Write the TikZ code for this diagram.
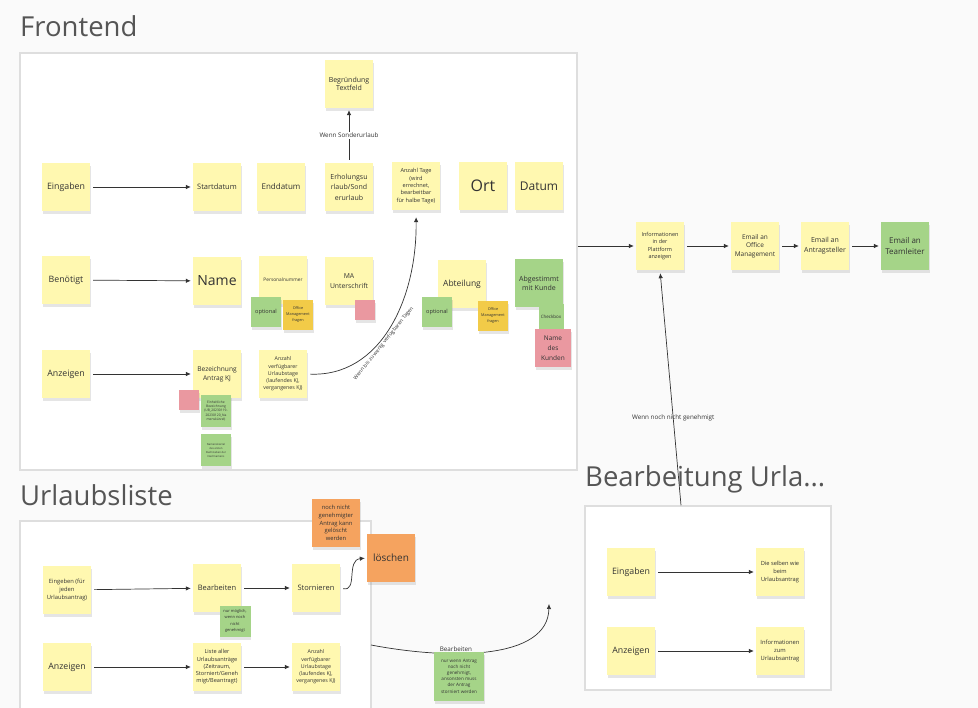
\documentclass[tikz,border=0pt]{standalone}
\usepackage{fontspec}
\setmainfont{Open Sans}
\usetikzlibrary{arrows.meta,positioning,shadows}
\definecolor{stk}{HTML}{FFF8B0}
\definecolor{stkg}{HTML}{A5D488}
\definecolor{stkp}{HTML}{EA98A0}
\definecolor{stko}{HTML}{F5A35F}
\definecolor{stky}{HTML}{F2CB48}
\definecolor{ink}{HTML}{333333}
\definecolor{ttl}{HTML}{555555}
\definecolor{frm}{HTML}{DEDEDE}
\definecolor{bg}{HTML}{FAFAFA}
\newcommand\fsz[2]{\fontsize{#1}{#2}\selectfont}

\begin{document}
\begin{tikzpicture}[x=1pt,y=-1pt,>={Latex[length=5pt,width=4.5pt]},
 note/.style={fill=stk,minimum width=48pt,minimum height=48pt,inner sep=1pt,align=center,text=ink,
  drop shadow={shadow xshift=0.5pt,shadow yshift=-3pt,opacity=0.2}},
 gnote/.style={note,fill=stkg},pnote/.style={note,fill=stkp},
 onote/.style={note,fill=stko},ynote/.style={note,fill=stky},
 sq/.style={minimum width=#1,minimum height=#1},
 frame/.style={draw=frm,line width=1.5pt,fill=white},
 title/.style={anchor=west,inner sep=0pt,text=ttl,font=\fsz{27.5}{32}},
 link/.style={->,draw=ink,line width=0.7pt,shorten >=2pt,shorten <=3pt},
 lbl/.style={font=\fsz{6.3}{8},text=ink,inner sep=1pt}]
\useasboundingbox (0,0) rectangle (978,708);
\fill[bg] (0,0) rectangle (978,708);

% frames and titles
\node[frame,minimum width=557pt,minimum height=417pt] (front) at (298.5,261.5) {};
\node[frame,minimum width=351pt,minimum height=200pt] (ulist) at (195.5,621) {};
\node[frame,minimum width=246pt,minimum height=184pt] (bearb) at (708,598) {};
\node[title] (tfront) at (20,26) {Frontend};
\node[title] (tulist) at (20,495) {Urlaubsliste};
\node[title] (tbearb) at (585,479) {Bearbeitung Urla...};

% Frontend
\node[note,font=\fsz{8.8}{10}] (ein) at (66,187) {Eingaben};
\node[note,font=\fsz{7.5}{9}] (start) at (217,187) {Startdatum};
\node[note,font=\fsz{8}{9}] (end) at (281,187) {Enddatum};
\node[note,font=\fsz{7}{10.5}] (art) at (349,187) {Erholungsu\\rlaub/Sond\\erurlaub};
\node[note,font=\fsz{5.6}{7.4}] (tage) at (416,186) {Anzahl Tage\\(wird\\errechnet,\\bearbeitbar\\für halbe Tage)};
\node[note,font=\fsz{16}{18}] (ort) at (483,186) {Ort};
\node[note,font=\fsz{12}{14}] (datum) at (539,186) {Datum};
\node[note,font=\fsz{7}{8.7}] (grund) at (349,84) {Begründung\\Textfeld};

\node[note,font=\fsz{8.8}{10}] (ben) at (66,280) {Benötigt};
\node[note,font=\fsz{14}{16}] (name) at (217,281) {Name};
\node[note,font=\fsz{4.8}{6}] (pnr) at (283,280) {Personalnummer};
\node[gnote,sq=30pt,font=\fsz{5.6}{7}] (opt1) at (266,312) {optional};
\node[ynote,sq=30pt,font=\fsz{3.8}{6}] (om1) at (298,315) {Office\\Management\\fragen};
\node[note,font=\fsz{6.8}{9.3}] (ma) at (349,281) {MA\\Unterschrift};
\node[pnote,sq=20pt] (ps1) at (365,310) {};
\node[note,font=\fsz{8.5}{10}] (abt) at (462,284) {Abteilung};
\node[gnote,sq=30pt,font=\fsz{5.6}{7}] (opt2) at (437,312) {optional};
\node[ynote,sq=30pt,font=\fsz{3.8}{6}] (om2) at (493,316) {Office\\Management\\fragen};
\node[gnote,font=\fsz{7}{9}] (kunde) at (539,283) {Abgestimmt\\mit Kunde};
\node[gnote,sq=25pt,font=\fsz{4.5}{5}] (check) at (551,317) {Checkbox};
\node[pnote,minimum width=36pt,minimum height=38pt,font=\fsz{6.5}{10}] (kname) at (553,348) {Name\\des\\Kunden};

\node[note,font=\fsz{8.8}{10}] (anz) at (66,374) {Anzeigen};
\node[note,font=\fsz{6.6}{9.3}] (bez) at (217,374) {Bezeichnung\\Antrag KJ};
\node[pnote,sq=20pt] (ps2) at (189,400) {};
\node[gnote,minimum width=30pt,minimum height=32pt,font=\fsz{3.3}{4.3}] (einh) at (216,411) {Einheitliche\\Bezeichnung\\(UB\_20230119-\\20230120\_Na\\menskürzel)};
\node[gnote,minimum width=30pt,minimum height=32pt,font=\fsz{2.7}{4}] (kuerz) at (216,450) {Namenskürzel\\des ersten\\Buchstaben der\\Nachnamens};
\node[note,font=\fsz{5.3}{7.2}] (verf) at (283,374) {Anzahl\\verfügbarer\\Urlaubstage\\(laufendes KJ,\\vergangenes KJ)};

% Ausgabe
\node[note,font=\fsz{5.5}{7.3}] (info) at (660,246) {Informationen\\in der\\Plattform\\anzeigen};
\node[note,font=\fsz{6.5}{8.4}] (mom) at (755,246) {Email an\\Office\\Management};
\node[note,font=\fsz{7}{10}] (mant) at (825,246) {Email an\\Antragsteller};
\node[gnote,font=\fsz{8}{11}] (mtl) at (905,246) {Email an\\Teamleiter};

% Urlaubsliste
\node[onote,font=\fsz{5.8}{7.8}] (hint) at (336,523) {noch nicht\\genehmigter\\Antrag kann\\gelöscht\\werden};
\node[onote,font=\fsz{10}{12}] (del) at (391,558) {löschen};
\node[note,font=\fsz{5.8}{8.3}] (uein) at (67,590) {Eingeben (für\\jeden\\Urlaubsantrag)};
\node[note,font=\fsz{7.5}{9}] (ubea) at (217,588) {Bearbeiten};
\node[gnote,minimum width=31pt,minimum height=31pt,font=\fsz{4}{6.3}] (nur) at (235,621) {nur möglich,\\wenn noch\\nicht\\genehmigt};
\node[note,font=\fsz{7.5}{9}] (storn) at (316,588) {Stornieren};
\node[note,font=\fsz{8.8}{10}] (uanz) at (67,667) {Anzeigen};
\node[note,font=\fsz{5.6}{7.25}] (liste) at (217,667) {Liste aller\\Urlaubsanträge\\(Zeitraum,\\Storniert/Geneh\\migt/Beantragt)};
\node[note,font=\fsz{5.3}{7.2}] (uverf) at (316,667) {Anzahl\\verfügbarer\\Urlaubstage\\(laufendes KJ,\\vergangenes KJ)};

% Bearbeitung
\node[note,font=\fsz{8.8}{10}] (bein) at (631,572) {Eingaben};
\node[note,font=\fsz{5.7}{7.7}] (same) at (780,572) {Die selben wie\\beim\\Urlaubsantrag};
\node[note,font=\fsz{8.8}{10}] (banz) at (631,651) {Anzeigen};
\node[note,font=\fsz{5.8}{8.2}] (binf) at (780,651) {Informationen\\zum\\Urlaubsantrag};

\coordinate (ulout) at (371,645);
\coordinate (bin) at (549,604);

% connectors
\draw[link] (ein)--(start); \draw[link] (ben)--(name); \draw[link] (anz)--(bez);
\draw[link] (art)-- node[lbl,fill=white]{Wenn Sonderurlaub} (grund);
\draw[link,shorten >=7pt] (verf.east) .. controls (380,377) and (417,300) .. (tage.south)
 node[lbl,font=\fsz{5.2}{6},pos=0.42,sloped,below=1pt]{Wenn bis zu wenig verfügbaren Tagen};
\draw[link,shorten <=0pt] (front.east |- info) -- (info);
\draw[link] (info)--(mom); \draw[link] (mom)--(mant); \draw[link] (mant)--(mtl);
\draw[link,shorten <=0pt,shorten >=3pt] ([xshift=-27pt]bearb.north) -- node[lbl,pos=0.37]{Wenn noch nicht genehmigt} (info.south);
\draw[link] (uein)--(ubea); \draw[link] (ubea)--(storn);
\draw[link] (storn.east) .. controls (358,592) and (346,560) .. (del.west);
\draw[link] (uanz)--(liste); \draw[link] (liste)--(uverf);
\draw[link,shorten <=0pt,shorten >=0pt] (ulout) .. controls (450,660) and (548,660) .. (bin)
 node[lbl,pos=0.35,above=1pt]{Bearbeiten};
\draw[link] (bein)--(same); \draw[link] (banz)--(binf);

\node[gnote,minimum width=50pt,minimum height=49pt,font=\fsz{4.6}{6.2}] (nurw) at (459,676) {nur wenn Antrag\\noch nicht\\genehmigt,\\ansonsten muss\\der Antrag\\storniert werden};
\end{tikzpicture}
\end{document}
